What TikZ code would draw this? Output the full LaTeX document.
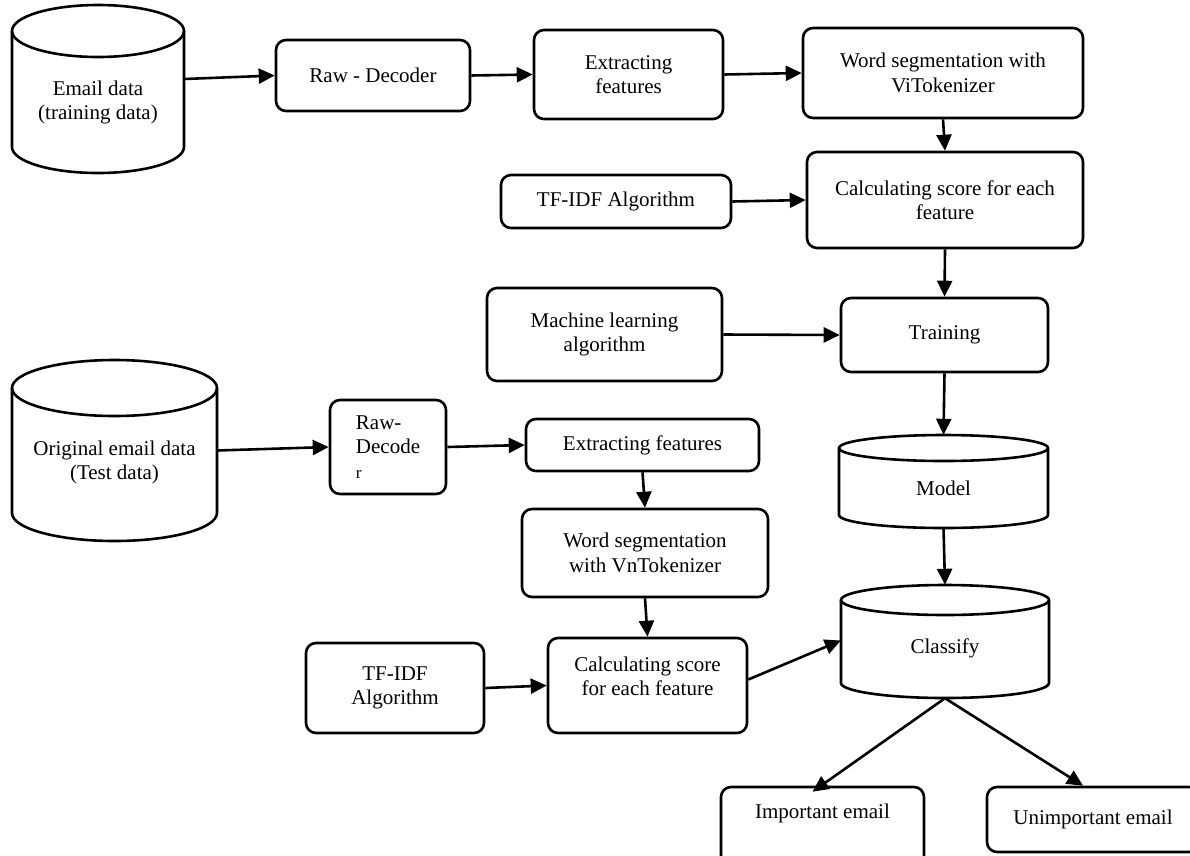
\documentclass[tikz,border=0pt]{standalone}
\usepackage{fontspec}
\setmainfont{Liberation Serif}
\usetikzlibrary{arrows.meta,calc,fit}
\tikzset{
  base/.style={line width=2.6pt, draw=black},
  box/.style={base, rounded corners=10pt, align=center, inner sep=0pt, font=\fontsize{21}{24.5}\selectfont},
  cylarea/.style={inner sep=0pt, draw=none},
  cyl/.style={base},
  txt/.style={align=center, font=\fontsize{21}{24.5}\selectfont, inner sep=0pt},
  arr/.style={line width=2.6pt, -{Triangle[length=16pt,width=15pt]}},
}
\newcommand\drawmycyl[5]{%
  \pgfmathsetmacro\mycylcx{(#1+#3)/2}%
  \pgfmathsetmacro\mycylrx{(#3-#1)/2}%
  \pgfmathsetmacro\mycylyt{-(#2+#5)}%
  \pgfmathsetmacro\mycylyb{-(#4-#5)}%
  \draw[cyl] (\mycylcx,\mycylyt) ellipse[x radius=\mycylrx pt, y radius=#5pt];
  \draw[cyl] (#1,\mycylyt) -- (#1,\mycylyb) arc[start angle=180,end angle=360,x radius=\mycylrx pt,y radius=#5pt] -- (#3,\mycylyt);
}
\begin{document}
\begin{tikzpicture}[x=1pt,y=1pt]
\useasboundingbox (0,0) rectangle (1190,-855);
\clip (0,0) rectangle (1190,-855);

% cylinders
\drawmycyl{12}{5}{184}{173}{26}
\node[cylarea, fit={(12,-5) (184,-173)}, label={[txt,name=e1t,yshift=-13.5pt]center:{Email data\\(training data)}}] (e1) {};
\drawmycyl{12}{360}{217}{541}{28}
\node[cylarea, fit={(12,-360) (217,-541)}, label={[txt,name=e2t,yshift=-12pt]center:{Original email data\\(Test data)}}] (e2) {};
\drawmycyl{839}{435}{1048}{528}{13}
\node[cylarea, fit={(839,-435) (1048,-528)}, label={[txt,name=mdt,yshift=-6.5pt]center:{Model}}] (md) {};
\drawmycyl{841}{585}{1049}{698}{15}
\node[cylarea, fit={(841,-585) (1049,-698)}, label={[txt,name=clt,yshift=-6.5pt]center:{Classify}}] (cl) {};

% boxes
\node[box, minimum width=194pt, minimum height=71pt] (rd1) at (373,-75.5) {Raw - Decoder};
\node[box, minimum width=189pt, minimum height=89pt] (ex1) at (628.5,-74.5) {Extracting\\features};
\node[box, minimum width=280pt, minimum height=90pt] (ws1) at (943,-73) {Word segmentation with\\ViTokenizer};
\node[box, minimum width=230pt, minimum height=53pt] (tf1) at (616,-201.5) {TF-IDF Algorithm};
\node[box, minimum width=276pt, minimum height=96pt] (cs1) at (945,-200) {Calculating score for each\\feature};
\node[box, minimum width=235pt, minimum height=93pt] (ml) at (604.5,-334.5) {Machine learning\\algorithm};
\node[box, minimum width=207pt, minimum height=74pt] (tr) at (944.5,-335) {Training};
\node[box, minimum width=116pt, minimum height=94pt, align=left] (rd2) at (388,-447) {Raw-\\Decode\\{\fontsize{17}{24.5}\selectfont r}};
\node[box, minimum width=233pt, minimum height=52pt] (ex2) at (642.5,-445) {Extracting features};
\node[box, minimum width=246pt, minimum height=88pt] (ws2) at (645,-553) {Word segmentation\\with VnTokenizer};
\node[box, minimum width=199pt, minimum height=95pt, label={[txt,name=cs2t,yshift=9pt]center:{Calculating score\\for each feature}}] (cs2) at (647.5,-685.5) {};
\node[box, minimum width=178pt, minimum height=90pt] (tf2) at (395,-688) {TF-IDF\\Algorithm};
\node[box, minimum width=203pt, minimum height=83pt, label={[txt,name=imt,yshift=15.5pt]center:{Important email}}] (im) at (822.5,-828.5) {};
\node[box, minimum width=212pt, minimum height=65pt] (un) at (1093,-819.5) {Unimportant email};

% connectors
\draw[arr] ($(e1.east)+(0,10)$) -- (rd1.west);
\draw[arr] (rd1.east) -- (ex1.west);
\draw[arr] (ex1.east) -- (ws1.west);
\draw[arr] (ws1.south) -- (cs1.north);
\draw[arr] (tf1.east) -- (cs1.west);
\draw[arr] (cs1.south) -- (tr.north);
\draw[arr] (ml.east) -- (tr.west);
\draw[arr] (tr.south) -- (md.north);
\draw[arr] (md.south) -- (cl.north);
\draw[arr] (e2.east) -- (rd2.west);
\draw[arr] (rd2.east) -- (ex2.west);
\draw[arr] (ex2.south) -- (ws2.north);
\draw[arr] (ws2.south) -- (cs2.north);
\draw[arr] (tf2.east) -- (cs2.west);
\draw[arr] ($(cs2.east)+(0,6)$) -- ($(cl.west)+(0,1)$);
\draw[arr] (cl.south) -- ($(im.north)+(-10,-6)$);
\draw[arr] (cl.south) -- ($(un.north)+(-10,0)$);
\end{tikzpicture}
\end{document}
